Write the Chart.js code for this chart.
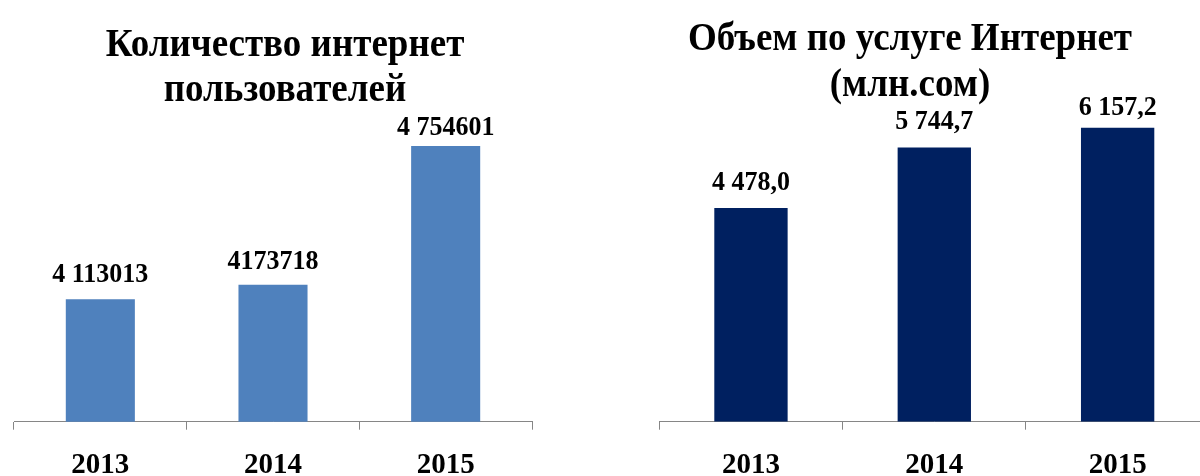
<!DOCTYPE html>
<html>
<head>
<meta charset="utf-8">
<script src="https://cdn.jsdelivr.net/npm/chart.js@4.4.0/dist/chart.umd.min.js"></script>
<style>
  html, body { margin: 0; padding: 0; background: #fff; overflow: hidden; }
  body { width: 1200px; height: 476px; position: relative; }
  .box { position: absolute; top: 0; height: 476px; }
  #usersBox { left: 0; width: 570px; }
  #volumeBox { left: 600px; width: 620px; }
</style>
</head>
<body>
<div class="box" id="usersBox"><canvas id="usersChart" width="570" height="476"></canvas></div>
<div class="box" id="volumeBox"><canvas id="volumeChart" width="620" height="476"></canvas></div>
<script>
const years = ["2013", "2014", "2015"];
const userCounts = [4113013, 4173718, 4754601];
const userLabels = ["4 113013", "4173718", "4 754601"];
const volumeValues = [4478.0, 5744.7, 6157.2];
const volumeLabels = ["4 478,0", "5 744,7", "6 157,2"];
const usersTitle = ["Количество интернет", "пользователей"];
const volumeTitle = ["Объем по услуге Интернет", "(млн.сом)"];

const FONT = "'Liberation Serif', 'Times New Roman', serif";

// text drawn a little taller than wide, like the source picture
function tallText(ctx, str, x, y, sy) {
  ctx.save();
  ctx.translate(x, y);
  ctx.scale(1, sy);
  ctx.fillText(str, 0, 0);
  ctx.restore();
}

// value labels above bars + the two-line title
const barText = {
  id: "barText",
  afterDatasetsDraw(chart, args, opts) {
    const ctx = chart.ctx;
    ctx.save();
    ctx.fillStyle = "#000";
    ctx.textAlign = "center";
    ctx.textBaseline = "alphabetic";
    ctx.font = "bold 26px " + FONT;
    chart.getDatasetMeta(0).data.forEach((bar, i) => {
      tallText(ctx, opts.labels[i], bar.x, bar.y - opts.gaps[i], 1.04);
    });
    ctx.font = "bold 37px " + FONT;
    opts.title.forEach((line, i) => {
      tallText(ctx, line, chart.width / 2, opts.titleY[i], 1.1);
    });
    ctx.restore();
  }
};

function makeChart(id, values, color, yMin, yMax, pad, text) {
  return new Chart(document.getElementById(id), {
    type: "bar",
    data: {
      labels: years,
      datasets: [{
        data: values,
        backgroundColor: color,
        barPercentage: 0.4,
        categoryPercentage: 1.0
      }]
    },
    options: {
      responsive: false,
      animation: false,
      layout: { padding: pad },
      plugins: {
        legend: { display: false },
        tooltip: { enabled: false },
        barText: text
      },
      scales: {
        x: {
          grid: { offset: true, drawOnChartArea: false, drawTicks: true, tickLength: 8, color: "#868686", lineWidth: 1 },
          border: { color: "#868686", width: 1 },
          ticks: { color: "#000", padding: 18, font: { family: FONT, size: 29, weight: "bold" } },
          afterFit: s => { s.height = 54.3; }
        },
        y: { display: false, min: yMin, max: yMax }
      }
    },
    plugins: [barText]
  });
}

makeChart("usersChart", userCounts, "#4F81BD", 3600000, 5000000,
  { top: 87.5, left: 14, right: 38, bottom: 0 },
  { labels: userLabels, gaps: [17.4, 16, 11], title: usersTitle, titleY: [55.5, 101] });

makeChart("volumeChart", volumeValues, "#002060", 0, 7000,
  { top: 87.5, left: 59.3, right: 10.7, bottom: 0 },
  { labels: volumeLabels, gaps: [18, 18, 12.3], title: volumeTitle, titleY: [50, 96] });
</script>
</body>
</html>
